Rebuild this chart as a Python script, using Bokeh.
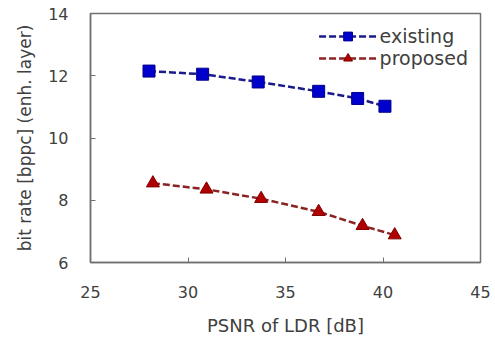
from bokeh.plotting import figure
from bokeh.models import FixedTicker, Legend, LegendItem, Range1d
from bokeh.embed import file_html
from bokeh.resources import INLINE

existing_x = [28.0, 30.75, 33.6, 36.7, 38.7, 40.1]
existing_y = [12.15, 12.05, 11.8, 11.5, 11.27, 11.02]
proposed_x = [28.2, 30.95, 33.75, 36.7, 38.95, 40.6]
proposed_y = [8.55, 8.35, 8.05, 7.63, 7.18, 6.88]
x_ticks = [25, 30, 35, 40, 45]
y_ticks = [6, 8, 10, 12, 14]

FONT = "DejaVu Sans"
TXT = "#404040"

p = figure(width=495, height=338, output_backend="svg", toolbar_location=None,
           x_range=Range1d(25, 45), y_range=Range1d(6, 14),
           min_border_left=90, min_border_right=15, min_border_top=13, min_border_bottom=75)
p.xgrid.visible = False
p.ygrid.visible = False
p.outline_line_color = "#707070"
p.outline_line_width = 1.5

for ax in (p.xaxis[0], p.yaxis[0]):
    ax.axis_line_color = "#707070"
    ax.axis_line_width = 1.5
    ax.major_tick_line_color = "#707070"
    ax.major_tick_in = 5
    ax.major_tick_out = 0
    ax.minor_tick_line_color = None
    ax.major_label_text_font = FONT
    ax.major_label_text_font_size = "16px"
    ax.major_label_text_color = TXT
    ax.axis_label_text_font = FONT
    ax.axis_label_text_font_style = "normal"
    ax.axis_label_text_color = TXT

p.xaxis.ticker = FixedTicker(ticks=x_ticks)
p.yaxis.ticker = FixedTicker(ticks=y_ticks)
p.xaxis.axis_label = "PSNR of LDR [dB]"
p.yaxis.axis_label = "bit rate [bppc] (enh. layer)"
p.xaxis.axis_label_text_font_size = "18px"
p.yaxis.axis_label_text_font_size = "17px"
p.xaxis.major_label_standoff = 23
p.yaxis.major_label_standoff = 22
p.xaxis.axis_label_standoff = 14
p.yaxis.axis_label_standoff = 10

l1 = p.line(existing_x, existing_y, line_color="#1a1a8c", line_width=2.5, line_dash="7 3")
m1 = p.scatter(existing_x, existing_y, marker="square", size=12, fill_color="#0000cc",
               line_color="#00008b", line_width=1)
l2 = p.line(proposed_x, proposed_y, line_color="#8b2323", line_width=2.5, line_dash="7 3")
m2 = p.scatter(proposed_x, proposed_y, marker="triangle", size=13, fill_color="#b00000",
               line_color="#800000", line_width=1)

legend = Legend(items=[LegendItem(label="existing", renderers=[l1, m1]),
                       LegendItem(label="proposed", renderers=[l2, m2])],
                location="top_right", border_line_color=None, background_fill_alpha=0,
                label_text_font=FONT, label_text_font_size="19px", label_text_color=TXT,
                glyph_width=58, spacing=0, padding=2, margin=12, label_standoff=3,
                label_height=22, glyph_height=22)
p.add_layout(legend)

open("out.html", "w").write(file_html(p, INLINE))
